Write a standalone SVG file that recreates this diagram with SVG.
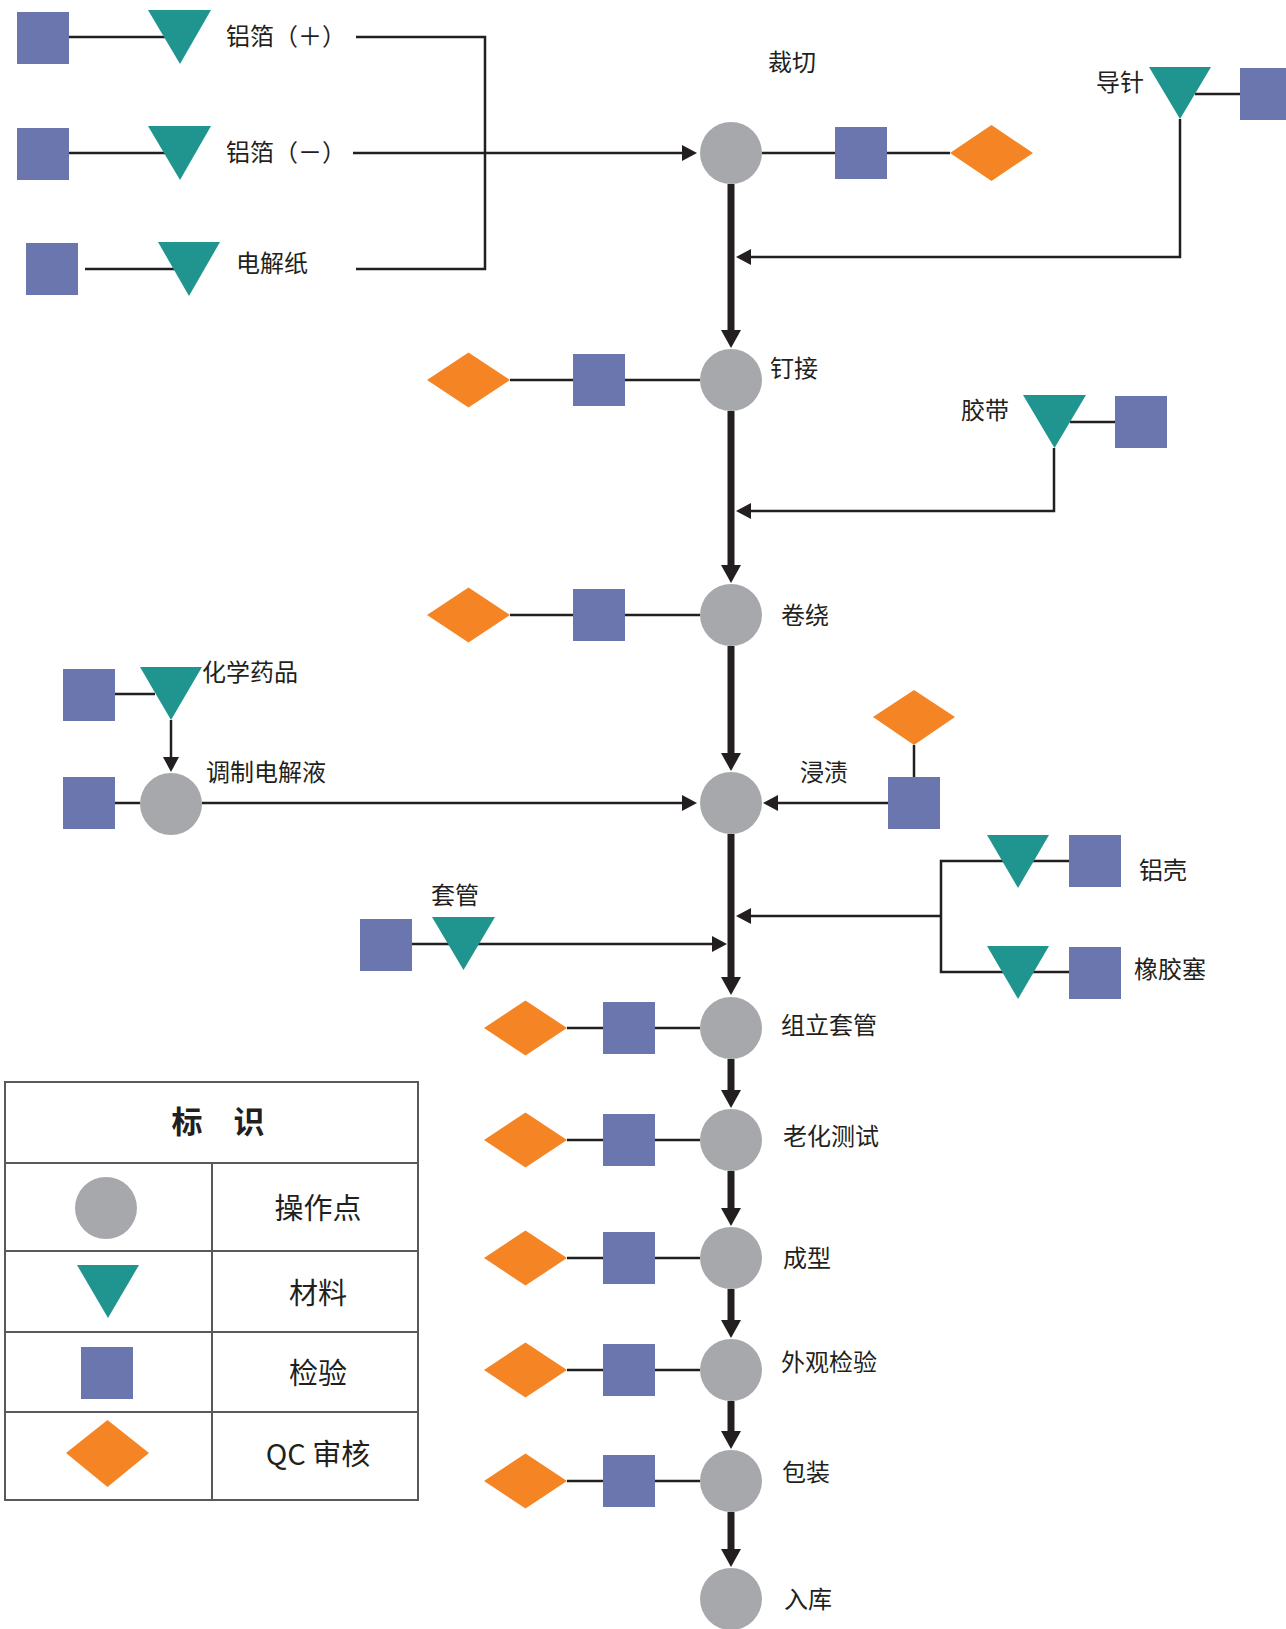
<svg xmlns="http://www.w3.org/2000/svg" width="1286" height="1629" viewBox="0 0 1286 1629">
<style>
.sq{fill:#6a76ad}
.tri{fill:#20958f}
.dia{fill:#f58524}
.op{fill:#a7a8ab}
.ln{stroke:#231f20;stroke-width:2.5;fill:none}
.main{stroke:#231f20;stroke-width:7;fill:none}
.t{font-family:"Noto Sans CJK SC","Noto Sans",sans-serif;font-size:24px;fill:#231f20;dominant-baseline:central}
.lg{font-family:"Noto Sans CJK SC","Noto Sans",sans-serif;font-size:29px;fill:#231f20;dominant-baseline:central;text-anchor:middle}
.grid{stroke:#58595b;stroke-width:2;fill:none}
</style>
<defs>
<marker id="big" markerUnits="userSpaceOnUse" markerWidth="20" markerHeight="20" refX="1" refY="10" orient="auto"><path d="M0,0 L18,10 L0,20 z" fill="#231f20"/></marker>
<marker id="sm" markerUnits="userSpaceOnUse" markerWidth="16" markerHeight="16" refX="1" refY="8" orient="auto"><path d="M0,0 L15,8 L0,16 z" fill="#231f20"/></marker>
</defs>
<rect width="1286" height="1629" fill="#fff"/>
<g id="connectors">
<path class="ln" d="M69,37 H170"/>
<path class="ln" d="M69,153 H170"/>
<path class="ln" d="M85,269 H180"/>
<path class="ln" d="M356,37 H485 V269 H356"/>
<path class="ln" d="M353,153 H683" marker-end="url(#sm)"/>
<path class="ln" d="M762,153 H835 M887,153 H950"/>
<path class="ln" d="M1195,94 H1240"/>
<path class="ln" d="M1180,119 V257 H750" marker-end="url(#sm)"/>
<path class="ln" d="M1070,422 H1115"/>
<path class="ln" d="M1054,448 V511 H750" marker-end="url(#sm)"/>
<path class="ln" d="M510,380 H573 M625,380 H700"/>
<path class="ln" d="M510,615 H573 M625,615 H700"/>
<path class="ln" d="M115,694 H155"/>
<path class="ln" d="M171,720 V758" marker-end="url(#sm)"/>
<path class="ln" d="M115,803 H140"/>
<path class="ln" d="M202,803 H683" marker-end="url(#sm)"/>
<path class="ln" d="M914,745 V777"/>
<path class="ln" d="M888,803 H777" marker-end="url(#sm)"/>
<path class="ln" d="M1069,861 H941 V972 H1069"/>
<path class="ln" d="M941,916 H750" marker-end="url(#sm)"/>
<path class="ln" d="M412,944 H713" marker-end="url(#sm)"/>
<path class="ln" d="M567,1028 H603 M655,1028 H700"/>
<path class="ln" d="M567,1140 H603 M655,1140 H700"/>
<path class="ln" d="M567,1258 H603 M655,1258 H700"/>
<path class="ln" d="M567,1370 H603 M655,1370 H700"/>
<path class="ln" d="M567,1481 H603 M655,1481 H700"/>
<path class="main" d="M731,184 V331" marker-end="url(#big)"/>
<path class="main" d="M731,411 V566" marker-end="url(#big)"/>
<path class="main" d="M731,646 V754" marker-end="url(#big)"/>
<path class="main" d="M731,834 V978" marker-end="url(#big)"/>
<path class="main" d="M731,1059 V1091" marker-end="url(#big)"/>
<path class="main" d="M731,1171 V1209" marker-end="url(#big)"/>
<path class="main" d="M731,1289 V1321" marker-end="url(#big)"/>
<path class="main" d="M731,1401 V1432" marker-end="url(#big)"/>
<path class="main" d="M731,1512 V1550" marker-end="url(#big)"/>
</g>
<g id="foil-pos"><rect class="sq" x="17" y="12" width="52" height="52"/><polygon class="tri" points="148,10 211,10 180,64"/><text class="t" x="226" y="34">铝箔（＋）</text></g>
<g id="foil-neg"><rect class="sq" x="17" y="128" width="52" height="52"/><polygon class="tri" points="148,126 211,126 180,180"/><text class="t" x="226" y="150">铝箔（－）</text></g>
<g id="paper"><rect class="sq" x="26" y="243" width="52" height="52"/><polygon class="tri" points="158,242 220,242 189,296"/><text class="t" x="236" y="261">电解纸</text></g>
<g id="cut"><circle class="op" cx="731" cy="153" r="31"/><text class="t" x="768" y="60">裁切</text><rect class="sq" x="835" y="127" width="52" height="52"/><polygon class="dia" points="950,153 991.5,125 1033,153 991.5,181"/></g>
<g id="pin"><polygon class="tri" points="1149,67 1211,67 1180,119"/><rect class="sq" x="1240" y="68" width="52" height="52"/><text class="t" x="1096" y="80">导针</text></g>
<g id="rivet"><circle class="op" cx="731" cy="380" r="31"/><text class="t" x="770" y="366">钉接</text><rect class="sq" x="573" y="354" width="52" height="52"/><polygon class="dia" points="427,380 468.5,352.5 510,380 468.5,407.5"/></g>
<g id="tape"><polygon class="tri" points="1023,395 1086,395 1054.5,448"/><rect class="sq" x="1115" y="396" width="52" height="52"/><text class="t" x="961" y="408">胶带</text></g>
<g id="wind"><circle class="op" cx="731" cy="615" r="31"/><text class="t" x="781" y="613">卷绕</text><rect class="sq" x="573" y="589" width="52" height="52"/><polygon class="dia" points="427,615 468.5,587.5 510,615 468.5,642.5"/></g>
<g id="chem"><rect class="sq" x="63" y="669" width="52" height="52"/><polygon class="tri" points="140,667 202,667 171,720"/><text class="t" x="202" y="670">化学药品</text></g>
<g id="mix"><rect class="sq" x="63" y="777" width="52" height="52"/><circle class="op" cx="171" cy="804" r="31"/><text class="t" x="206" y="770">调制电解液</text></g>
<g id="impregnate"><circle class="op" cx="731" cy="803" r="31"/><text class="t" x="800" y="770">浸渍</text><rect class="sq" x="888" y="777" width="52" height="52"/><polygon class="dia" points="873,717 914,690 955,717 914,745"/></g>
<g id="shell"><polygon class="tri" points="987,835 1049,835 1018,888"/><rect class="sq" x="1069" y="835" width="52" height="52"/><text class="t" x="1139" y="868">铝壳</text></g>
<g id="plug"><polygon class="tri" points="987,946 1049,946 1018,999"/><rect class="sq" x="1069" y="947" width="52" height="52"/><text class="t" x="1134" y="967">橡胶塞</text></g>
<g id="sleeve"><rect class="sq" x="360" y="919" width="52" height="52"/><polygon class="tri" points="432,917 495,917 463.5,970"/><text class="t" x="431" y="893">套管</text></g>
<g id="assemble"><circle class="op" cx="731" cy="1028" r="31"/><text class="t" x="781" y="1023">组立套管</text><rect class="sq" x="603" y="1002" width="52" height="52"/><polygon class="dia" points="484,1028 525.5,1000.5 567,1028 525.5,1055.5"/></g>
<g id="aging"><circle class="op" cx="731" cy="1140" r="31"/><text class="t" x="783" y="1134">老化测试</text><rect class="sq" x="603" y="1114" width="52" height="52"/><polygon class="dia" points="484,1140 525.5,1112.5 567,1140 525.5,1167.5"/></g>
<g id="form"><circle class="op" cx="731" cy="1258" r="31"/><text class="t" x="783" y="1256">成型</text><rect class="sq" x="603" y="1232" width="52" height="52"/><polygon class="dia" points="484,1258 525.5,1230.5 567,1258 525.5,1285.5"/></g>
<g id="visual"><circle class="op" cx="731" cy="1370" r="31"/><text class="t" x="781" y="1360">外观检验</text><rect class="sq" x="603" y="1344" width="52" height="52"/><polygon class="dia" points="484,1370 525.5,1342.5 567,1370 525.5,1397.5"/></g>
<g id="pack"><circle class="op" cx="731" cy="1481" r="31"/><text class="t" x="782" y="1470">包装</text><rect class="sq" x="603" y="1455" width="52" height="52"/><polygon class="dia" points="484,1481 525.5,1453.5 567,1481 525.5,1508.5"/></g>
<g id="store"><circle class="op" cx="731" cy="1599" r="31"/><text class="t" x="784" y="1597">入库</text></g>
<g id="legend">
<rect class="grid" x="5" y="1082" width="413" height="418"/>
<path class="grid" d="M5,1163 H418 M5,1251 H418 M5,1332 H418 M5,1412 H418 M212,1163 V1500"/>
<text class="lg" x="218" y="1119" style="font-size:31px;font-weight:700">标　识</text>
<circle class="op" cx="106" cy="1208" r="31"/>
<text class="lg" x="318" y="1206">操作点</text>
<polygon class="tri" points="77,1265 139,1265 108,1318"/>
<text class="lg" x="318" y="1291">材料</text>
<rect class="sq" x="81" y="1347" width="52" height="52"/>
<text class="lg" x="318" y="1371">检验</text>
<polygon class="dia" points="66,1453 107.5,1420 149,1453 107.5,1487"/>
<text class="lg" x="318" y="1452">QC 审核</text>
</g>
</svg>
